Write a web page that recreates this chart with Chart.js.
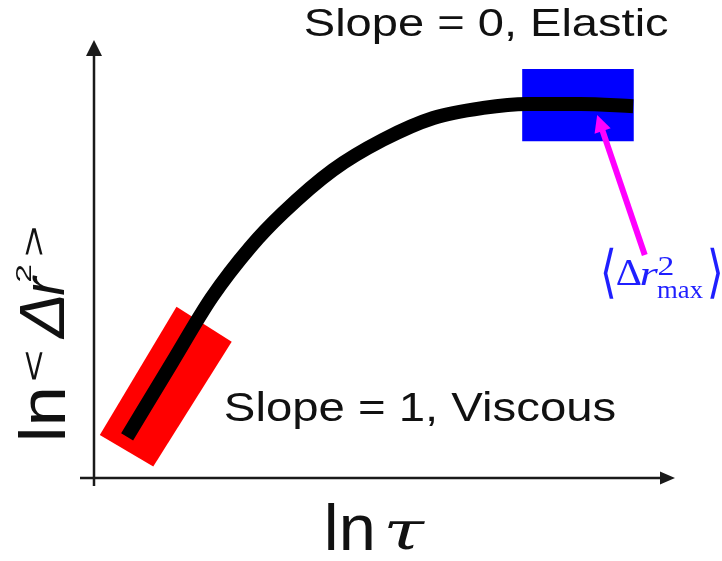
<!DOCTYPE html>
<html>
<head>
<meta charset="utf-8">
<script src="https://cdn.jsdelivr.net/npm/chart.js@4.4.1/dist/chart.umd.min.js"></script>
<style>
  html, body { margin: 0; padding: 0; background: #ffffff; }
  canvas { display: block; }
</style>
</head>
<body>
<canvas id="msd" width="722" height="561"></canvas>
<script>
// Mean-squared displacement vs lag time on log-log axes (arbitrary units 0..100)
const curveX = [5.7, 13.4, 20.3, 26.9, 32.5, 41.1, 49.7, 58.4, 67.0, 74.5, 83.7, 92.8];
const curveY = [9.4, 26.3, 41.3, 52.7, 60.5, 70.3, 77.2, 82.2, 84.5, 85.4, 85.4, 84.9];

// Short-lag window lying along the slope-1 (viscous) segment
const viscousX = [1.0, 14.2, 23.7, 10.2];
const viscousY = [9.8, 39.1, 31.1, 2.6];

// Long-lag window around the plateau (elastic)
const elasticX = [73.7, 92.9, 92.9, 73.7];
const elasticY = [93.4, 93.4, 76.9, 76.9];

// Pointer from the plateau label up to the plateau (tail, tip)
const pointerX = [94.8, 86.6];
const pointerY = [50.9, 82.9];

// Text
const elasticLabel = 'Slope = 0, Elastic';
const viscousLabel = 'Slope = 1, Viscous';

const pts = (xs, ys) => xs.map((x, i) => ({ x: x, y: ys[i] }));

const SANS = '"Liberation Sans", Arial, sans-serif';
const SERIF = '"Liberation Serif", "Times New Roman", serif';
const BRACKET = '"DejaVu Serif", "DejaVu Sans", serif';

// Draw text so that its ink fills the given box
function fitBox(ctx, text, font, left, right, top, bottom) {
  ctx.save();
  ctx.font = font;
  ctx.textAlign = 'left';
  ctx.textBaseline = 'alphabetic';
  const m = ctx.measureText(text);
  const inkW = m.actualBoundingBoxLeft + m.actualBoundingBoxRight;
  const inkH = m.actualBoundingBoxAscent + m.actualBoundingBoxDescent;
  ctx.translate(left, top);
  ctx.scale((right - left) / inkW, (bottom - top) / inkH);
  ctx.fillText(text, m.actualBoundingBoxLeft, m.actualBoundingBoxAscent);
  ctx.restore();
}

// Draw text on a baseline, stretched so that its ink spans [left, right]
function fitWidth(ctx, text, font, left, right, baseline) {
  ctx.save();
  ctx.font = font;
  ctx.textAlign = 'left';
  ctx.textBaseline = 'alphabetic';
  const m = ctx.measureText(text);
  const inkW = m.actualBoundingBoxLeft + m.actualBoundingBoxRight;
  ctx.translate(left, baseline);
  ctx.scale((right - left) / inkW, 1);
  ctx.fillText(text, m.actualBoundingBoxLeft, 0);
  ctx.restore();
}

function polygon(ctx, meta, color) {
  ctx.save();
  ctx.beginPath();
  meta.data.forEach((p, i) => (i ? ctx.lineTo(p.x, p.y) : ctx.moveTo(p.x, p.y)));
  ctx.closePath();
  ctx.fillStyle = color;
  ctx.fill();
  ctx.restore();
}

function arrowHead(ctx, tipX, tipY, ux, uy, len, half) {
  const bx = tipX - ux * len, by = tipY - uy * len;
  ctx.beginPath();
  ctx.moveTo(tipX, tipY);
  ctx.lineTo(bx - uy * half, by + ux * half);
  ctx.lineTo(bx + uy * half, by - ux * half);
  ctx.closePath();
  ctx.fill();
}

const windows = {
  id: 'windows',
  beforeDatasetsDraw(chart) {
    const ctx = chart.ctx;
    polygon(ctx, chart.getDatasetMeta(0), '#ff0000');
    polygon(ctx, chart.getDatasetMeta(1), '#0000ff');
  }
};

const decorations = {
  id: 'decorations',
  afterDatasetsDraw(chart) {
    const ctx = chart.ctx;
    const ca = chart.chartArea;

    // axes with arrow heads
    ctx.save();
    ctx.strokeStyle = '#1a1a1a';
    ctx.fillStyle = '#1a1a1a';
    ctx.lineWidth = 2.5;
    ctx.beginPath();
    ctx.moveTo(ca.left, ca.bottom + 8);
    ctx.lineTo(ca.left, ca.top + 12);
    ctx.moveTo(ca.left - 14, ca.bottom);
    ctx.lineTo(ca.right - 10, ca.bottom);
    ctx.stroke();
    arrowHead(ctx, ca.left, ca.top, 0, -1, 16, 8);
    arrowHead(ctx, ca.right, ca.bottom, 1, 0, 15, 6.5);
    ctx.restore();

    // magenta pointer
    const pm = chart.getDatasetMeta(3).data;
    const t = pm[0], h = pm[1];
    const dx = h.x - t.x, dy = h.y - t.y, L = Math.hypot(dx, dy);
    const ux = dx / L, uy = dy / L;
    ctx.save();
    ctx.strokeStyle = '#ff00ff';
    ctx.fillStyle = '#ff00ff';
    ctx.lineWidth = 6;
    ctx.beginPath();
    ctx.moveTo(t.x, t.y);
    ctx.lineTo(h.x - ux * 14, h.y - uy * 14);
    ctx.stroke();
    arrowHead(ctx, h.x, h.y, ux, uy, 17, 8.5);
    ctx.restore();

    // annotations
    ctx.save();
    ctx.fillStyle = '#111111';
    fitWidth(ctx, elasticLabel, '39px ' + SANS, 305, 668, 36);
    fitWidth(ctx, viscousLabel, '40px ' + SANS, 225, 615, 421);

    // x-axis title: ln τ
    fitWidth(ctx, 'ln', '64px ' + SANS, 328, 372, 550);
    fitBox(ctx, 'τ', 'italic 60px "DejaVu Serif", ' + SERIF, 387, 425, 520, 551);

    // y-axis title: ln <Δr²>, reading upward
    ctx.translate(65, 438);
    ctx.rotate(-Math.PI / 2);
    fitWidth(ctx, 'ln', '64px ' + SANS, 0, 48, 0);
    fitBox(ctx, '<', '48px ' + SANS, 58, 86, -40, -22);
    fitBox(ctx, 'Δ', 'italic 64px ' + SANS, 98, 141, -45, -1);
    fitBox(ctx, 'r', 'italic 64px ' + SANS, 143, 163, -33, -1);
    fitBox(ctx, '2', '40px ' + SANS, 157, 173, -50, -34);
    fitBox(ctx, '>', '48px ' + SANS, 183, 210, -40, -22);
    ctx.restore();

    // plateau label: ⟨Δr²max⟩
    ctx.save();
    ctx.fillStyle = '#1f1fff';
    fitBox(ctx, '⟨', '40px ' + BRACKET, 603, 614, 247, 300);
    fitBox(ctx, 'Δ', '34px ' + SERIF, 617, 641, 261, 285);
    fitBox(ctx, 'r', 'italic 34px ' + SERIF, 641, 659, 269, 285);
    fitBox(ctx, '2', '24px ' + SERIF, 659, 673, 258, 275);
    fitBox(ctx, 'max', '22px ' + SERIF, 657, 703, 287, 298);
    fitBox(ctx, '⟩', '40px ' + BRACKET, 710, 721, 247, 300);
    ctx.restore();
  }
};

new Chart(document.getElementById('msd'), {
  type: 'scatter',
  data: {
    datasets: [
      { label: 'viscous window', data: pts(viscousX, viscousY), showLine: false, pointRadius: 0 },
      { label: 'elastic window', data: pts(elasticX, elasticY), showLine: false, pointRadius: 0 },
      {
        label: 'MSD',
        data: pts(curveX, curveY),
        showLine: true,
        borderColor: '#000000',
        borderWidth: 14,
        borderCapStyle: 'butt',
        borderJoinStyle: 'round',
        cubicInterpolationMode: 'monotone',
        pointRadius: 0,
        fill: false,
        clip: false
      },
      { label: 'pointer', data: pts(pointerX, pointerY), showLine: false, pointRadius: 0 }
    ]
  },
  options: {
    responsive: false,
    animation: false,
    events: [],
    layout: { padding: { left: 94, right: 47, top: 40, bottom: 83 } },
    plugins: { legend: { display: false }, tooltip: { enabled: false } },
    scales: {
      x: { type: 'linear', min: 0, max: 100, display: false },
      y: { type: 'linear', min: 0, max: 100, display: false }
    }
  },
  plugins: [windows, decorations]
});
</script>
</body>
</html>
